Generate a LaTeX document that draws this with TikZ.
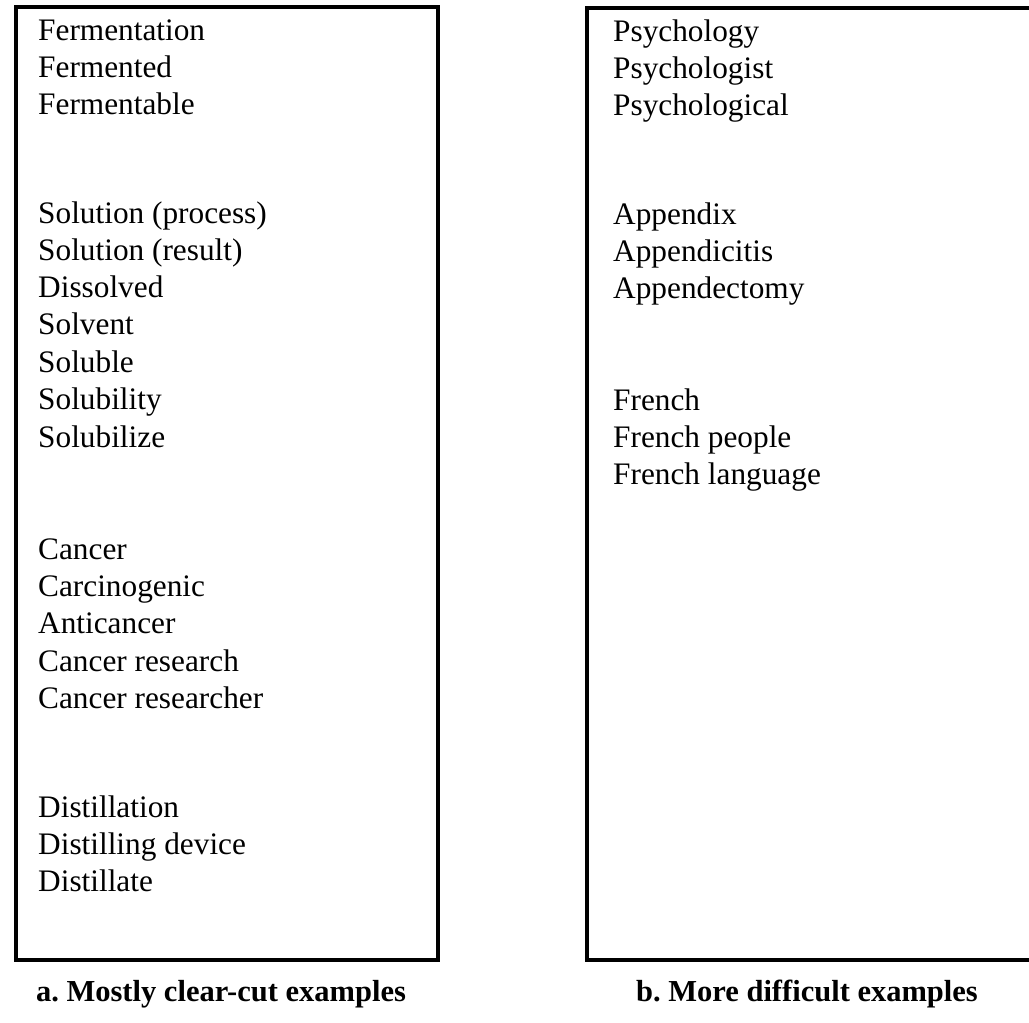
\documentclass[tikz,border=0pt]{standalone}
\usepackage{fontspec}
\setmainfont{Liberation Serif}
\begin{document}
\begin{tikzpicture}[x=1pt,y=-1pt,
  entry/.style={anchor=base west,inner sep=0pt,font=\fontsize{31.3}{36}\selectfont},
  caption/.style={anchor=base,inner sep=0pt,font=\fontsize{30.5}{34}\selectfont\bfseries},
  frame/.style={line width=4pt}]
\useasboundingbox (0,0) rectangle (1029,1023);
% box a
\draw[frame] (16,7) rectangle (438,960);
% box b (open on the right)
\draw[frame] (1029,8) -- (587,8) -- (587,960) -- (1029,960);
% column a
\node[entry] (a1) at (38,40) {Fermentation};
\node[entry] (a2) at (38,77) {Fermented};
\node[entry] (a3) at (38,114) {Fermentable};
\node[entry] (a4) at (38,223) {Solution (process)};
\node[entry] (a5) at (38,260) {Solution (result)};
\node[entry] (a6) at (38,297) {Dissolved};
\node[entry] (a7) at (38,334) {Solvent};
\node[entry] (a8) at (38,372) {Soluble};
\node[entry] (a9) at (38,409) {Solubility};
\node[entry] (a10) at (38,447) {Solubilize};
\node[entry] (a11) at (38,559) {Cancer};
\node[entry] (a12) at (38,596) {Carcinogenic};
\node[entry] (a13) at (38,633) {Anticancer};
\node[entry] (a14) at (38,671) {Cancer research};
\node[entry] (a15) at (38,708) {Cancer researcher};
\node[entry] (a16) at (38,817) {Distillation};
\node[entry] (a17) at (38,854) {Distilling device};
\node[entry] (a18) at (38,891) {Distillate};
% column b
\node[entry] (b1) at (613,41) {Psychology};
\node[entry] (b2) at (613,78) {Psychologist};
\node[entry] (b3) at (613,115) {Psychological};
\node[entry] (b4) at (613,224) {Appendix};
\node[entry] (b5) at (613,261) {Appendicitis};
\node[entry] (b6) at (613,298) {Appendectomy};
\node[entry] (b7) at (613,410) {French};
\node[entry] (b8) at (613,447) {French people};
\node[entry] (b9) at (613,484) {French language};
% captions
\node[caption] (ca) at (221,1001) {a.\ Mostly clear-cut examples};
\node[caption] (cb) at (807,1001) {b.\ More difficult examples};
\end{tikzpicture}
\end{document}
